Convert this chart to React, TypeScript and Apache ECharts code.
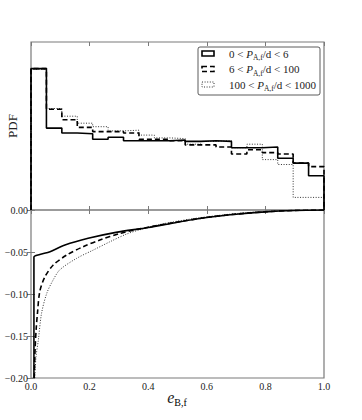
import React, { useEffect, useRef } from "react";
import * as echarts from "echarts";

// Histogram bin edges: 19 equal bins on [0, 1]
const binCount = 19;
// PDF heights per bin
const pdfShort = [2.02, 1.17, 1.1, 1.09, 1.01, 1.04, 0.99, 0.99, 0.99, 1.0, 0.98, 0.99, 0.98, 0.89, 0.89, 0.9, 0.74, 0.67, 0.49];
const pdfMid = [2.02, 1.44, 1.29, 1.18, 1.12, 1.12, 1.1, 1.01, 1.01, 0.99, 0.93, 0.93, 0.9, 0.8, 0.86, 0.82, 0.8, 0.67, 0.62];
const pdfLong = [2.01, 1.45, 1.34, 1.24, 1.19, 1.13, 1.14, 1.07, 1.03, 1.02, 0.94, 0.98, 0.99, 0.89, 0.94, 0.72, 0.65, 0.18, 0.18];

// Lower panel curves [e, value]
const curveShort = [
  [0.01, -0.2], [0.01, -0.056], [0.03, -0.053], [0.065, -0.0496], [0.116, -0.0417], [0.195, -0.0337],
  [0.29, -0.0266], [0.4, -0.0209], [0.5, -0.0145], [0.6, -0.0089], [0.7, -0.005], [0.8, -0.0022], [0.9, -0.0006], [1.0, 0],
];
const curveMid = [
  [0.011, -0.2], [0.014, -0.165], [0.018, -0.14], [0.022, -0.123], [0.03, -0.097], [0.047, -0.08], [0.076, -0.0655],
  [0.122, -0.0536], [0.178, -0.0437], [0.235, -0.0357], [0.304, -0.0278], [0.35, -0.024], [0.4, -0.0205],
  [0.5, -0.0143], [0.6, -0.0088], [0.7, -0.0049], [0.8, -0.0021], [0.9, -0.0005], [1.0, 0],
];
const curveLong = [
  [0.013, -0.2], [0.017, -0.175], [0.025, -0.155], [0.036, -0.123], [0.054, -0.099], [0.076, -0.083], [0.099, -0.071],
  [0.156, -0.0575], [0.213, -0.0476], [0.27, -0.0377], [0.327, -0.0285], [0.372, -0.0235], [0.45, -0.0165],
  [0.55, -0.0105], [0.65, -0.006], [0.75, -0.0028], [0.85, -0.0009], [1.0, 0],
];

const xTicks = [0, 0.2, 0.4, 0.6, 0.8, 1.0];
const yTicks = [-0.2, -0.15, -0.1, -0.05, 0];

const legendLabels = [
  "0 < {i|P}{s|A,f}/d < 6",
  "6 < {i|P}{s|A,f}/d < 100",
  "100 < {i|P}{s|A,f}/d < 1000",
];

const FONT = "'Liberation Serif', 'DejaVu Serif', serif";
const FRAME = "#7a7a7a";

function stepOutline(h: number[]) {
  const pts: number[][] = [[0, 0]];
  for (let i = 0; i < h.length; i++) {
    pts.push([i / binCount, h[i]]);
    pts.push([(i + 1) / binCount, h[i]]);
  }
  pts.push([1, 0]);
  return pts;
}

const styles = [
  { color: "#000", width: 1.6, dash: "solid" as any },
  { color: "#000", width: 1.6, dash: [5, 3] as any },
  { color: "#333", width: 1.0, dash: [1, 1.6] as any },
];

export default function App() {
  const ref = useRef<HTMLDivElement>(null);
  useEffect(() => {
    if (!ref.current) return;
    const chart = echarts.init(ref.current, undefined, { renderer: "svg" });
    const tick = { show: true, inside: true, length: 4, lineStyle: { color: FRAME, width: 1 } };
    const baseX = {
      type: "value" as const,
      min: 0,
      max: 1,
      interval: 0.2,
      axisLine: { show: false },
      splitLine: { show: false },
      axisTick: tick,
    };
    const rich = {
      i: { fontFamily: FONT, fontStyle: "italic", fontSize: 11, lineHeight: 16, color: "#222" },
      s: { fontFamily: FONT, fontSize: 7.5, lineHeight: 8, verticalAlign: "bottom", color: "#222" },
    };
    const legendItems: any[] = [];
    const rowY = [53.5, 69, 84.5];
    legendLabels.forEach((t, k) => {
      legendItems.push({
        type: "rect",
        shape: { x: 202, y: rowY[k] - 2.5, width: 12, height: 5 },
        style: {
          fill: "none",
          stroke: styles[k].color,
          lineWidth: styles[k].width,
          lineDash: styles[k].dash === "solid" ? null : styles[k].dash,
        },
      });
      legendItems.push({
        type: "text",
        x: 229,
        y: rowY[k],
        style: {
          text: t,
          fontFamily: FONT,
          fontSize: 11,
          lineHeight: 16,
          fill: "#222",
          verticalAlign: "middle",
          rich,
        },
      });
    });

    const option: any = {
      animation: false,
      grid: [
        { left: 31, top: 42, width: 293, height: 168, show: true, borderColor: FRAME, borderWidth: 1.2, backgroundColor: "transparent" },
        { left: 31, top: 210, width: 293, height: 168, show: true, borderColor: FRAME, borderWidth: 1.2, backgroundColor: "transparent" },
      ],
      xAxis: [
        { ...baseX, gridIndex: 0, position: "bottom", axisLabel: { show: false } },
        { ...baseX, gridIndex: 0, position: "top", axisLabel: { show: false } },
        {
          ...baseX,
          gridIndex: 1,
          position: "bottom",
          axisLabel: {
            show: true,
            margin: 3,
            fontFamily: FONT,
            fontSize: 10,
            color: "#222",
            formatter: (v: number) => v.toFixed(1),
            customValues: xTicks,
          },
        },
        { ...baseX, gridIndex: 1, position: "top", axisLabel: { show: false } },
      ],
      yAxis: [
        { type: "value", gridIndex: 0, min: 0, max: 2.4, axisLine: { show: false }, axisTick: { show: false }, axisLabel: { show: false }, splitLine: { show: false } },
        {
          type: "value",
          gridIndex: 1,
          min: -0.2,
          max: 0,
          interval: 0.05,
          axisLine: { show: false },
          splitLine: { show: false },
          axisTick: tick,
          axisLabel: {
            show: true,
            margin: 3,
            fontFamily: FONT,
            fontSize: 10,
            color: "#222",
            showMinLabel: true,
            showMaxLabel: true,
            customValues: yTicks,
            formatter: (v: number) => (v < 0 ? "\u2212" + Math.abs(v).toFixed(2) : v === 0 ? "0.00" : v.toFixed(2)),
          },
        },
        {
          type: "value",
          gridIndex: 1,
          position: "right",
          min: -0.2,
          max: 0,
          interval: 0.05,
          axisLine: { show: false },
          splitLine: { show: false },
          axisTick: tick,
          axisLabel: { show: false },
        },
      ],
      series: [
        ...[pdfShort, pdfMid, pdfLong].map((h, k) => ({
          type: "line",
          xAxisIndex: 0,
          yAxisIndex: 0,
          data: stepOutline(h),
          showSymbol: false,
          symbol: "none",
          lineStyle: { color: styles[k].color, width: styles[k].width, type: styles[k].dash },
          z: 3 - k,
        })),
        ...[curveShort, curveMid, curveLong].map((c, k) => ({
          type: "line",
          xAxisIndex: 2,
          yAxisIndex: 1,
          data: c,
          showSymbol: false,
          symbol: "none",
          smooth: 0.3,
          lineStyle: { color: styles[k].color, width: styles[k].width, type: styles[k].dash },
          z: 3 - k,
        })),
      ],
      graphic: [
        {
          type: "rect",
          shape: { x: 198, y: 47, width: 122, height: 48, r: 2 },
          style: { fill: "#fff", stroke: "#333", lineWidth: 0.8 },
          z: 10,
        },
        ...legendItems.map((e) => ({ ...e, z: 11 })),
        {
          type: "text",
          x: 12,
          y: 126,
          rotation: Math.PI / 2,
          style: { text: "PDF", fontFamily: FONT, fontSize: 13, fill: "#222", align: "center", verticalAlign: "middle" },
        },
        {
          type: "text",
          x: 177,
          y: 397,
          style: {
            text: "{e|e}{b|B,f}",
            align: "center",
            verticalAlign: "middle",
            rich: {
              e: { fontFamily: FONT, fontStyle: "italic", fontSize: 16, lineHeight: 20, fill: "#222", color: "#222" },
              b: { fontFamily: FONT, fontSize: 10, lineHeight: 10, verticalAlign: "bottom", color: "#222" },
            },
          },
        },
      ],
    };
    chart.setOption(option);
    return () => chart.dispose();
  }, []);
  return <div ref={ref} style={{ position: "fixed", left: 0, top: 0, width: 362, height: 420, background: "#fff" }} />;
}
